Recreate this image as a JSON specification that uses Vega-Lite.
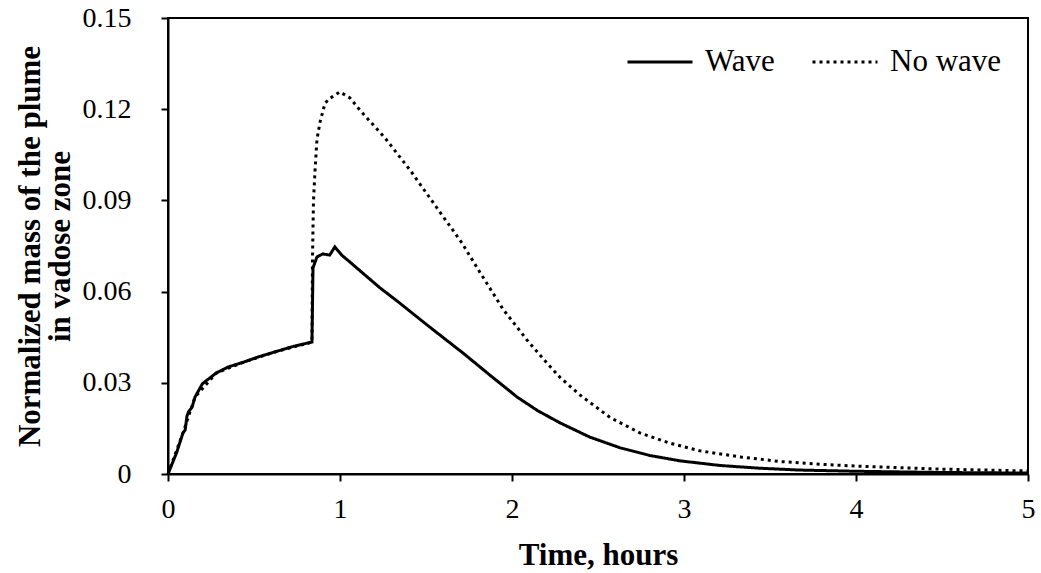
{
  "$schema": "https://vega.github.io/schema/vega-lite/v6.json",
  "width": 860,
  "height": 456,
  "autosize": {"type": "none"},
  "padding": {"left": 168, "top": 18, "right": 13, "bottom": 99},
  "background": "white",
  "config": {
    "view": {"stroke": "black", "strokeWidth": 2},
    "axis": {
      "domainColor": "black", "domainWidth": 2, "tickColor": "black", "tickWidth": 2, "tickSize": 7,
      "grid": false, "labelFont": "Liberation Serif", "labelFontSize": 28, "labelColor": "black",
      "titleFont": "Liberation Serif", "titleFontSize": 31, "titleFontWeight": "bold", "titleColor": "black"
    }
  },
  "data": {
    "values": [
      {"t": 0, "v": 0, "s": "Wave"},
      {"t": 0.05, "v": 0.007, "s": "Wave"},
      {"t": 0.087, "v": 0.0135, "s": "Wave"},
      {"t": 0.1, "v": 0.0145, "s": "Wave"},
      {"t": 0.11, "v": 0.019, "s": "Wave"},
      {"t": 0.12, "v": 0.0205, "s": "Wave"},
      {"t": 0.14, "v": 0.022, "s": "Wave"},
      {"t": 0.157, "v": 0.0253, "s": "Wave"},
      {"t": 0.2, "v": 0.0297, "s": "Wave"},
      {"t": 0.28, "v": 0.0332, "s": "Wave"},
      {"t": 0.35, "v": 0.0352, "s": "Wave"},
      {"t": 0.44, "v": 0.0368, "s": "Wave"},
      {"t": 0.53, "v": 0.0386, "s": "Wave"},
      {"t": 0.63, "v": 0.0403, "s": "Wave"},
      {"t": 0.73, "v": 0.042, "s": "Wave"},
      {"t": 0.837, "v": 0.0434, "s": "Wave"},
      {"t": 0.843, "v": 0.0678, "s": "Wave"},
      {"t": 0.866, "v": 0.0714, "s": "Wave"},
      {"t": 0.9, "v": 0.0724, "s": "Wave"},
      {"t": 0.94, "v": 0.072, "s": "Wave"},
      {"t": 0.97, "v": 0.0747, "s": "Wave"},
      {"t": 1.01, "v": 0.072, "s": "Wave"},
      {"t": 1.058, "v": 0.0697, "s": "Wave"},
      {"t": 1.134, "v": 0.066, "s": "Wave"},
      {"t": 1.233, "v": 0.0612, "s": "Wave"},
      {"t": 1.33, "v": 0.057, "s": "Wave"},
      {"t": 1.52, "v": 0.0484, "s": "Wave"},
      {"t": 1.715, "v": 0.0398, "s": "Wave"},
      {"t": 1.87, "v": 0.0326, "s": "Wave"},
      {"t": 2.03, "v": 0.0253, "s": "Wave"},
      {"t": 2.15, "v": 0.0208, "s": "Wave"},
      {"t": 2.28, "v": 0.0168, "s": "Wave"},
      {"t": 2.45, "v": 0.0122, "s": "Wave"},
      {"t": 2.63, "v": 0.0086, "s": "Wave"},
      {"t": 2.8, "v": 0.0061, "s": "Wave"},
      {"t": 2.98, "v": 0.0043, "s": "Wave"},
      {"t": 3.21, "v": 0.0028, "s": "Wave"},
      {"t": 3.44, "v": 0.0019, "s": "Wave"},
      {"t": 3.67, "v": 0.0013, "s": "Wave"},
      {"t": 4.0, "v": 0.0009, "s": "Wave"},
      {"t": 4.5, "v": 0.0005, "s": "Wave"},
      {"t": 5.0, "v": 0.0003, "s": "Wave"},
      {"t": 0, "v": 0, "s": "No wave"},
      {"t": 0.087, "v": 0.0135, "s": "No wave"},
      {"t": 0.157, "v": 0.0253, "s": "No wave"},
      {"t": 0.28, "v": 0.0332, "s": "No wave"},
      {"t": 0.44, "v": 0.0368, "s": "No wave"},
      {"t": 0.63, "v": 0.0403, "s": "No wave"},
      {"t": 0.837, "v": 0.0434, "s": "No wave"},
      {"t": 0.84, "v": 0.0704, "s": "No wave"},
      {"t": 0.843, "v": 0.081, "s": "No wave"},
      {"t": 0.846, "v": 0.09, "s": "No wave"},
      {"t": 0.855, "v": 0.1, "s": "No wave"},
      {"t": 0.866, "v": 0.11, "s": "No wave"},
      {"t": 0.884, "v": 0.1158, "s": "No wave"},
      {"t": 0.913, "v": 0.122, "s": "No wave"},
      {"t": 0.942, "v": 0.1236, "s": "No wave"},
      {"t": 1.0, "v": 0.1257, "s": "No wave"},
      {"t": 1.058, "v": 0.1237, "s": "No wave"},
      {"t": 1.116, "v": 0.1197, "s": "No wave"},
      {"t": 1.262, "v": 0.1105, "s": "No wave"},
      {"t": 1.407, "v": 0.1, "s": "No wave"},
      {"t": 1.564, "v": 0.0875, "s": "No wave"},
      {"t": 1.709, "v": 0.076, "s": "No wave"},
      {"t": 1.814, "v": 0.0663, "s": "No wave"},
      {"t": 1.948, "v": 0.0542, "s": "No wave"},
      {"t": 2.087, "v": 0.0441, "s": "No wave"},
      {"t": 2.203, "v": 0.0365, "s": "No wave"},
      {"t": 2.279, "v": 0.0318, "s": "No wave"},
      {"t": 2.395, "v": 0.026, "s": "No wave"},
      {"t": 2.57, "v": 0.0186, "s": "No wave"},
      {"t": 2.744, "v": 0.0135, "s": "No wave"},
      {"t": 2.92, "v": 0.0101, "s": "No wave"},
      {"t": 3.093, "v": 0.0076, "s": "No wave"},
      {"t": 3.33, "v": 0.0056, "s": "No wave"},
      {"t": 3.56, "v": 0.0041, "s": "No wave"},
      {"t": 3.79, "v": 0.0032, "s": "No wave"},
      {"t": 4.0, "v": 0.0026, "s": "No wave"},
      {"t": 4.5, "v": 0.0016, "s": "No wave"},
      {"t": 5.0, "v": 0.001, "s": "No wave"}
    ]
  },
  "mark": {"type": "line", "strokeWidth": 3, "color": "black"},
  "encoding": {
    "x": {
      "field": "t", "type": "quantitative",
      "scale": {"domain": [0, 5], "nice": false},
      "axis": {"title": "Time, hours", "values": [0, 1, 2, 3, 4, 5], "labelFlush": false, "labelPadding": 14, "titlePadding": 17}
    },
    "y": {
      "field": "v", "type": "quantitative",
      "scale": {"domain": [0, 0.15], "nice": false},
      "axis": {
        "title": ["Normalized mass of the plume", "in vadose zone"],
        "titleLineHeight": 30,
        "values": [0, 0.03, 0.06, 0.09, 0.12, 0.15],
        "labelExpr": "datum.value == 0 ? '0' : format(datum.value, '.2f')",
        "labelFlush": false,
        "labelPadding": 30, "titlePadding": 6
      }
    },
    "strokeDash": {
      "field": "s", "type": "nominal",
      "scale": {"domain": ["Wave", "No wave"], "range": [[1, 0], [3, 4]]},
      "legend": {
        "title": null, "orient": "none", "legendX": 458, "legendY": 10, "direction": "horizontal",
        "symbolType": "stroke", "symbolSize": 4225, "symbolStrokeWidth": 3, "symbolStrokeColor": "black",
        "labelFont": "Liberation Serif", "labelFontSize": 31, "labelColor": "black", "labelOffset": 11,
        "columnPadding": 31, "labelLimit": 0
      }
    }
  }
}
